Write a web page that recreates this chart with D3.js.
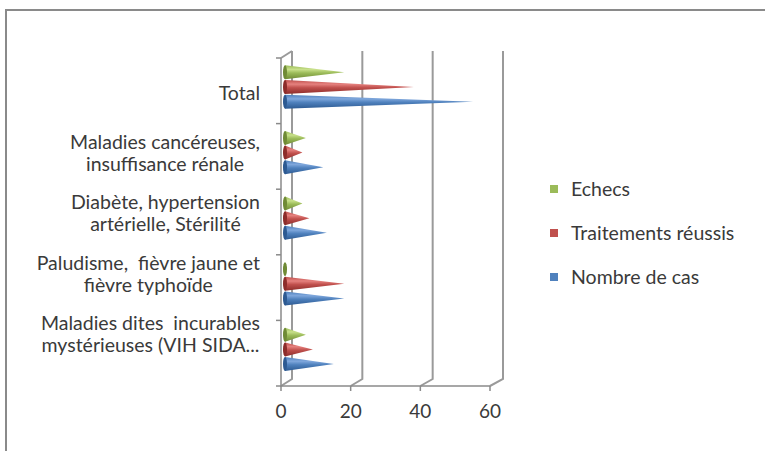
<!DOCTYPE html>
<html>
<head>
<meta charset="utf-8">
<script src="https://cdn.jsdelivr.net/npm/d3@7"></script>
<style>
  body { margin: 0; background: #fff; }
  svg text { font-family: Lato, "Open Sans", sans-serif; fill: #3a3a3a; white-space: pre; }
</style>
</head>
<body>
<div id="chart"></div>
<script>
const width = 765, height = 451;

// categories, top to bottom
const categories = [
  ["Total"],
  ["Maladies cancéreuses,", "insuffisance rénale"],
  ["Diabète, hypertension", "artérielle, Stérilité"],
  ["Paludisme,  fièvre jaune et", "fièvre typhoïde"],
  ["Maladies dites  incurables", "mystérieuses (VIH SIDA..."]
];
const catKeys = categories.map(d => d.join(" "));

// series values, same order as categories
const series = ["Echecs", "Traitements réussis", "Nombre de cas"];
const echecs = [17, 6, 5, 0, 6];
const reussis = [37, 5, 7, 17, 8];
const nombre = [54, 11, 12, 17, 14];
const xTicks = [0, 20, 40, 60];

const colors = {
  "Echecs": ["#c8e08a", "#9bbb59", "#6f8a35"],
  "Traitements réussis": ["#e5817e", "#c0504d", "#8c2c2a"],
  "Nombre de cas": ["#7fa7dc", "#4f81bd", "#2d5a92"]
};
const valuesBySeries = { "Echecs": echecs, "Traitements réussis": reussis, "Nombre de cas": nombre };

const svg = d3.select("#chart").append("svg")
  .attr("width", width)
  .attr("height", height);

// outer frame
svg.append("path")
  .attr("d", `M6,${height} V10 H${width}`)
  .attr("fill", "none")
  .attr("stroke", "#8a8a8a")
  .attr("stroke-width", 2);

// 3D depth offset
const depth = { dx: 11, dy: -7 };

// scales
const xFront = d3.scaleLinear().domain([0, 60]).range([281, 490]);
const xBack = d3.scaleLinear().domain([0, 60]).range([281 + depth.dx, 490 + depth.dx + 2]);
const xMid = d3.scaleLinear().domain([0, 60]).range([285, 494]);
const y = d3.scaleBand().domain(catKeys).range([58, 386]);
const ySub = d3.scaleBand().domain(series).range([7, 51]);
const yLabel = d3.scalePoint().domain(catKeys).range([93, 334]);

const floorY = y.range()[1];
const topY = y.range()[0];

// back wall gridlines and floor diagonals
const grid = svg.append("g").attr("stroke", "#9a9a9a").attr("stroke-width", 2).attr("fill", "none");
xTicks.forEach(t => {
  if (t === 0) return;
  grid.append("path")
    .attr("d", `M${xBack(t)},${topY + depth.dy} V${floorY + depth.dy} L${xFront(t)},${floorY}`);
});

// left wall
grid.append("path")
  .attr("d", `M${xBack(0)},${topY + depth.dy} V${floorY + depth.dy} L${xFront(0)},${floorY}`);
grid.append("path")
  .attr("d", `M${xFront(0)},${topY} L${xBack(0)},${topY + depth.dy}`);

// front axes
const axisG = svg.append("g").attr("stroke", "#8a8a8a").attr("stroke-width", 1.5).attr("fill", "none");
axisG.append("path").attr("d", `M${xFront(0)},${topY} V${floorY} H${xFront(60)}`);
y.domain().concat([null]).forEach(c => {
  const yy = c === null ? floorY : y(c);
  axisG.append("path").attr("d", `M${xFront(0) - 5},${yy} H${xFront(0)}`);
});
xTicks.forEach(t => {
  axisG.append("path").attr("d", `M${xFront(t)},${floorY} V${floorY + 5}`);
});

// x tick labels
svg.append("g").selectAll("text")
  .data(xTicks)
  .join("text")
  .attr("x", d => xFront(d))
  .attr("y", 411)
  .attr("dy", "0.35em")
  .attr("text-anchor", "middle")
  .attr("font-size", 19)
  .text(d => d);

// gradients for cones
const defs = svg.append("defs");
series.forEach((s, i) => {
  const g = defs.append("linearGradient")
    .attr("id", "grad" + i)
    .attr("x1", 0).attr("y1", 0).attr("x2", 0).attr("y2", 1);
  g.append("stop").attr("offset", "0%").attr("stop-color", colors[s][1]);
  g.append("stop").attr("offset", "30%").attr("stop-color", colors[s][0]);
  g.append("stop").attr("offset", "55%").attr("stop-color", colors[s][1]);
  g.append("stop").attr("offset", "100%").attr("stop-color", colors[s][2]);
});

// cones
const half = 7;
const coneG = svg.append("g");
categories.forEach((c, ci) => {
  series.forEach((s, si) => {
    const v = valuesBySeries[s][ci];
    const cy = y(catKeys[ci]) + ySub(s) + ySub.bandwidth() / 2;
    const x0 = xMid(0), x1 = xMid(v);
    if (v > 0) {
      coneG.append("path")
        .attr("d", `M${x0},${cy - half} L${x1},${cy} L${x0},${cy + half} Z`)
        .attr("fill", `url(#grad${si})`);
    }
    coneG.append("ellipse")
      .attr("cx", x0)
      .attr("cy", cy)
      .attr("rx", 2)
      .attr("ry", half)
      .attr("fill", colors[s][2]);
  });
});

// category labels: lines centered on each other, block right aligned
const labelRight = 260;
const lineH = 22;
categories.forEach((lines, ci) => {
  const g = svg.append("g");
  const texts = lines.map((l, li) => g.append("text")
    .attr("y", yLabel(catKeys[ci]) + (li - (lines.length - 1) / 2) * lineH)
    .attr("dy", "0.35em")
    .attr("text-anchor", "middle")
    .attr("font-size", 19.5)
    .text(l));
  const maxW = d3.max(texts, t => t.node().getComputedTextLength());
  texts.forEach(t => t.attr("x", labelRight - maxW / 2));
});

// legend
const legend = svg.append("g")
  .selectAll("g")
  .data(series)
  .join("g")
  .attr("transform", (d, i) => `translate(550,${189 + i * 44})`);

legend.append("rect")
  .attr("x", 0)
  .attr("y", -4)
  .attr("width", 8)
  .attr("height", 8)
  .attr("fill", d => colors[d][1]);

legend.append("text")
  .attr("x", 21)
  .attr("dy", "0.35em")
  .attr("font-size", 19.5)
  .text(d => d);
</script>
</body>
</html>
